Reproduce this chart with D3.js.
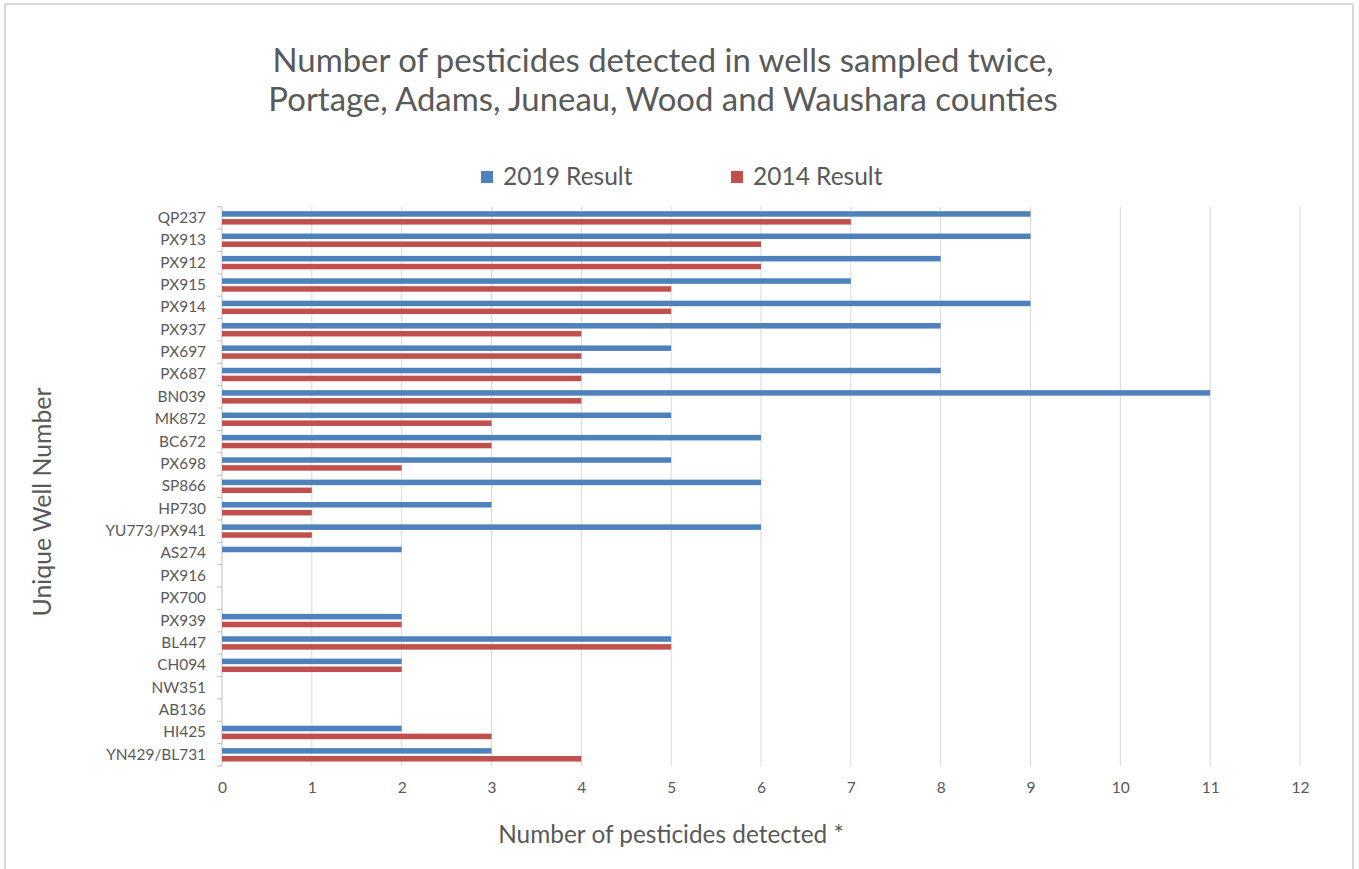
<!DOCTYPE html>
<html>
<head>
<meta charset="utf-8">
<script src="https://cdn.jsdelivr.net/npm/d3@7"></script>
<style>
  body { margin: 0; background: #fff; }
  text { font-family: Lato, "Open Sans", sans-serif; fill: #595959; }
</style>
</head>
<body>
<div id="chart"></div>
<script>
// wells, top to bottom
var wells = ["QP237", "PX913", "PX912", "PX915", "PX914", "PX937", "PX697", "PX687", "BN039",
  "MK872", "BC672", "PX698", "SP866", "HP730", "YU773/PX941", "AS274", "PX916", "PX700",
  "PX939", "BL447", "CH094", "NW351", "AB136", "HI425", "YN429/BL731"];
var result2019 = [9, 9, 8, 7, 9, 8, 5, 8, 11, 5, 6, 5, 6, 3, 6, 2, 0, 0, 2, 5, 2, 0, 0, 2, 3];
var result2014 = [7, 6, 6, 5, 5, 4, 4, 4, 4, 3, 3, 2, 1, 1, 1, 0, 0, 0, 2, 5, 2, 0, 0, 3, 4];
var seriesNames = ["2019 Result", "2014 Result"];
var colors = ["#4F81BD", "#C0504D"];
var xTicks = [0, 1, 2, 3, 4, 5, 6, 7, 8, 9, 10, 11, 12];

var svgWidth = 1359;
var svgHeight = 869;
var margin = {top: 206.7, right: 59, bottom: 103, left: 222};
var width = svgWidth - margin.left - margin.right;
var height = svgHeight - margin.top - margin.bottom;

var svg = d3.select("#chart")
  .append("svg")
  .attr("width", svgWidth)
  .attr("height", svgHeight);

// chart border
svg.append("rect")
  .attr("x", 5).attr("y", 4)
  .attr("width", 1348).attr("height", 900)
  .attr("fill", "none")
  .attr("stroke", "#D9D9D9")
  .attr("stroke-width", 2);

var chartGroup = svg.append("g")
  .attr("transform", `translate(${margin.left}, ${margin.top})`);

// scales
var x = d3.scaleLinear().domain([0, 12]).range([0, width]);
var y0 = d3.scaleBand().domain(wells).range([0, height]);
var y1 = d3.scaleBand().domain(seriesNames)
  .range([y0.bandwidth() * 0.2, y0.bandwidth() * 0.8])
  .paddingInner(0.3);

// gridlines
chartGroup.append("g")
  .selectAll("line")
  .data(xTicks.slice(1))
  .enter()
  .append("line")
  .attr("x1", d => x(d)).attr("x2", d => x(d))
  .attr("y1", 0).attr("y2", height)
  .attr("stroke", "#D9D9D9")
  .attr("stroke-width", 1);

// x tick labels
var bottomAxis = d3.axisBottom(x).tickValues(xTicks).tickSize(0).tickPadding(16);
var xAxisG = chartGroup.append("g")
  .attr("transform", `translate(0, ${height})`)
  .call(bottomAxis);
xAxisG.select(".domain").remove();
xAxisG.selectAll("text")
  .style("font-size", "15.5px")
  .attr("fill", "#595959");

// y axis: line with ticks at band edges
chartGroup.append("line")
  .attr("x1", 0).attr("x2", 0)
  .attr("y1", 0).attr("y2", height)
  .attr("stroke", "#BFBFBF");
chartGroup.append("g")
  .selectAll("line")
  .data(wells)
  .enter()
  .append("line")
  .attr("x1", -5).attr("x2", 0)
  .attr("y1", d => y0(d)).attr("y2", d => y0(d))
  .attr("stroke", "#BFBFBF");
chartGroup.append("line")
  .attr("x1", -5).attr("x2", 0)
  .attr("y1", height).attr("y2", height)
  .attr("stroke", "#BFBFBF");

var leftAxis = d3.axisLeft(y0).tickSize(0).tickPadding(16);
var yAxisG = chartGroup.append("g").call(leftAxis);
yAxisG.select(".domain").remove();
yAxisG.selectAll("text")
  .style("font-size", "15.4px")
  .attr("fill", "#595959");

// bars
var rows = wells.map((w, i) => ({well: w, values: [result2019[i], result2014[i]]}));
var groups = chartGroup.selectAll("g.well")
  .data(rows)
  .enter()
  .append("g")
  .attr("class", "well")
  .attr("transform", d => `translate(0, ${y0(d.well)})`);
groups.selectAll("rect")
  .data(d => d.values.map((v, j) => ({name: seriesNames[j], value: v, color: colors[j]})))
  .enter()
  .append("rect")
  .attr("x", x(0))
  .attr("y", d => y1(d.name))
  .attr("width", d => x(d.value) - x(0))
  .attr("height", y1.bandwidth())
  .attr("fill", d => d.color);

// title
var title = svg.append("text")
  .attr("x", 663)
  .attr("text-anchor", "middle")
  .style("font-size", "32.9px");
title.append("tspan").attr("x", 663).attr("y", 72)
  .text("Number of pesticides detected in wells sampled twice,");
title.append("tspan").attr("x", 663).attr("y", 111)
  .text("Portage, Adams, Juneau, Wood and Waushara counties");

// legend
var legendX = [481, 731];
var legend = svg.selectAll("g.legend")
  .data(seriesNames)
  .enter()
  .append("g")
  .attr("class", "legend")
  .attr("transform", (d, i) => `translate(${legendX[i]}, 171)`);
legend.append("rect")
  .attr("width", 12).attr("height", 12)
  .attr("fill", (d, i) => colors[i]);
legend.append("text")
  .attr("x", 22).attr("y", 14)
  .style("font-size", "24.5px")
  .text(d => d);

// axis titles
svg.append("text")
  .attr("x", 671).attr("y", 843)
  .attr("text-anchor", "middle")
  .style("font-size", "24.4px")
  .text("Number of pesticides detected *");
svg.append("text")
  .attr("transform", "translate(51, 502) rotate(-90)")
  .attr("text-anchor", "middle")
  .style("font-size", "24.8px")
  .text("Unique Well Number");
</script>
</body>
</html>
